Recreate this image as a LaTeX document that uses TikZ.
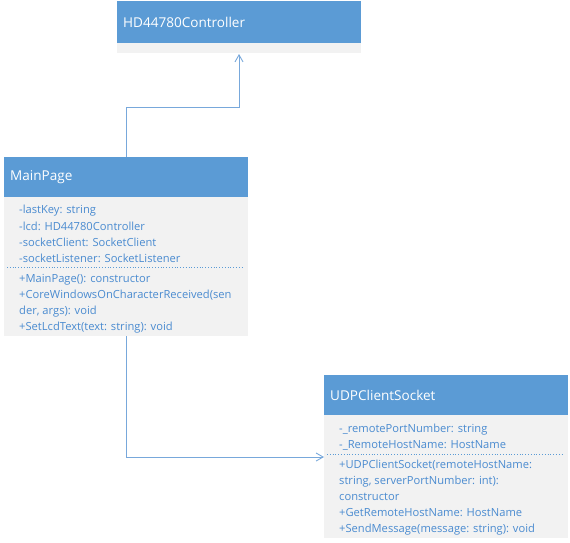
\documentclass[tikz,border=0pt]{standalone}
\usepackage{fontspec}
\setmainfont{Open Sans}
\usetikzlibrary{calc,arrows.meta}
\definecolor{umlblue}{HTML}{5B9BD5}
\definecolor{umlgray}{HTML}{F2F2F2}
\definecolor{umltext}{HTML}{4A8BD0}
\definecolor{umlline}{HTML}{78A8DB}
\tikzset{
  classbox/.style={fill=umlgray, draw=none, anchor=north west, minimum width=244bp, inner sep=0pt},
  classhead/.style={fill=umlblue, draw=none, anchor=north west, minimum width=244bp, minimum height=40bp, inner sep=0pt},
  classname/.style={anchor=west, text=white, inner sep=0pt, font=\fontsize{13.6}{15}\selectfont},
  member/.style={anchor=base west, text=umltext, inner sep=0pt, font=\fontsize{11.2}{13}\selectfont},
  sep/.style={draw=umlblue, dotted, line width=0.8bp},
  assoc/.style={draw=umlline, line width=1bp, -{Straight Barb[length=7bp,width=8bp,line width=0.9bp]}},
}
\begin{document}
\begin{tikzpicture}[x=1bp,y=-1bp]
\useasboundingbox (0,0) rectangle (570,543);

% HD44780Controller
\node[classbox, minimum height=52bp] (hd) at (117,1) {};
\node[classhead, minimum height=42bp] (hdh) at (hd.north west) {};
\node[classname] (hdn) at ($(hdh.west)+(6,0)$) {HD44780Controller};

% MainPage
\node[classbox, minimum height=179bp] (mp) at (4,157) {};
\node[classhead] (mph) at (mp.north west) {};
\node[classname] (mpn) at ($(mph.west)+(6,0)$) {MainPage};
\node[member] (mp1) at (19,214) {-lastKey: string};
\node[member] (mp2) at (19,230) {-lcd: HD44780Controller};
\node[member] (mp3) at (19,246) {-socketClient: SocketClient};
\node[member] (mp4) at (19,262) {-socketListener: SocketListener};
\coordinate (mps1) at (7,267);
\coordinate (mps2) at (244,267);
\draw[sep] (mps1) -- (mps2);
\node[member] (mp5) at (19,282) {+MainPage(): constructor};
\node[member] (mp6) at (19,298) {+CoreWindowsOnCharacterReceived(sen};
\node[member] (mp7) at (19,314) {der, args): void};
\node[member] (mp8) at (19,330) {+SetLcdText(text: string): void};

% UDPClientSocket
\node[classbox, minimum height=163bp] (udp) at (324,375) {};
\node[classhead] (udph) at (udp.north west) {};
\node[classname] (udpn) at ($(udph.west)+(6,0)$) {UDPClientSocket};
\node[member] (u1) at (339,432) {-\_remotePortNumber: string};
\node[member] (u2) at (339,448) {-\_RemoteHostName: HostName};
\coordinate (us1) at (327,454);
\coordinate (us2) at (564,454);
\draw[sep] (us1) -- (us2);
\node[member] (u3) at (339,468) {+UDPClientSocket(remoteHostName:};
\node[member] (u4) at (339,484) {string, serverPortNumber: int):};
\node[member] (u5) at (339,500) {constructor};
\node[member] (u6) at (339,516) {+GetRemoteHostName: HostName};
\node[member] (u7) at (339,532) {+SendMessage(message: string): void};

% connectors
\coordinate (mpTop) at (126,157);
\coordinate (mpBot) at (126,336);
\coordinate (hdBot) at (239,54);
\draw[assoc] (mpTop) -- (126,108) -- (239,108) -- (hdBot);
\draw[assoc] (mpBot) |- (udp.west |- 0,457);
\end{tikzpicture}
\end{document}
